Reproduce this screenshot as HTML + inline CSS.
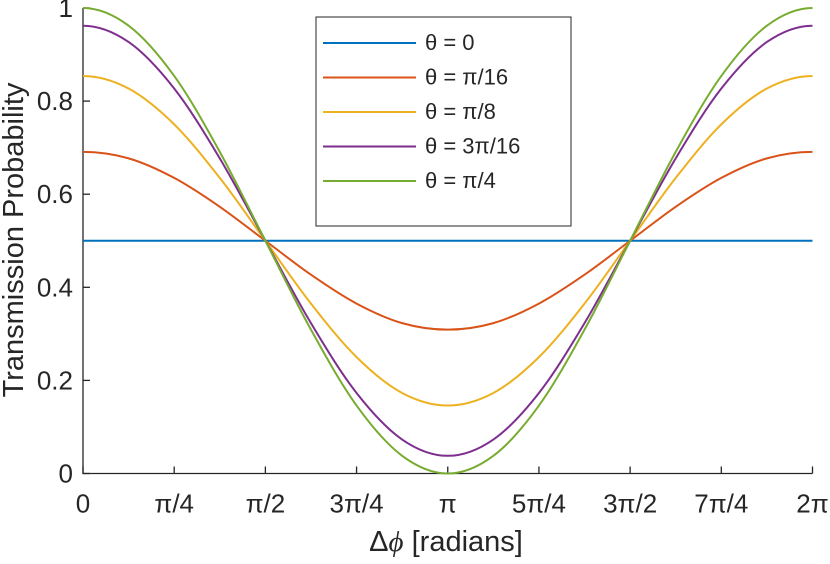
<!DOCTYPE html>
<html><head><meta charset="utf-8"><style>
body{margin:0;background:#fff;}
svg text{font-family:"Liberation Sans",sans-serif;fill:#262626;}
</style></head><body>
<svg id="chart" width="830" height="559" viewBox="0 0 830 559">
<g id="axes"></g>
<g id="series"></g>
<g id="legend"></g>
<text x="446" y="551" text-anchor="middle" font-size="29">Δ<tspan font-family="Liberation Serif" font-style="italic">ϕ</tspan> [radians]</text>
<text transform="translate(23,240) rotate(-90)" text-anchor="middle" font-size="29">Transmission Probability</text>
</svg>
<script>
const xTickLabels=["0","π/4","π/2","3π/4","π","5π/4","3π/2","7π/4","2π"];
const yTickLabels=["0","0.2","0.4","0.6","0.8","1"];
const yTickValues=[0,0.2,0.4,0.6,0.8,1];
const xSteps=[0,1,2,3,4,5,6,7,8,9,10,11,12,13,14,15,16]; // in units of π/8
const seriesNames=["θ = 0","θ = π/16","θ = π/8","θ = 3π/16","θ = π/4"];
const seriesColors=["#0072bd","#d95319","#edb120","#7e2f8e","#77ac30"];
const s0=[0.5,0.5,0.5,0.5,0.5,0.5,0.5,0.5,0.5,0.5,0.5,0.5,0.5,0.5,0.5,0.5,0.5];
const s1=[0.691,0.677,0.635,0.573,0.5,0.427,0.365,0.323,0.309,0.323,0.365,0.427,0.5,0.573,0.635,0.677,0.691];
const s2=[0.854,0.827,0.75,0.635,0.5,0.365,0.25,0.173,0.146,0.173,0.25,0.365,0.5,0.635,0.75,0.827,0.854];
const s3=[0.962,0.927,0.827,0.677,0.5,0.323,0.173,0.073,0.038,0.073,0.173,0.323,0.5,0.677,0.827,0.927,0.962];
const s4=[1,0.962,0.854,0.691,0.5,0.309,0.146,0.038,0,0.038,0.146,0.309,0.5,0.691,0.854,0.962,1];
const seriesData=[s0,s1,s2,s3,s4];

const NS="http://www.w3.org/2000/svg";
const X0=83,X1=812.5,Y0=473.5,Y1=8;
const xs=k=>X0+(X1-X0)*k/16;
const ys=v=>Y0-(Y0-Y1)*v;
function mk(tag,attrs,parent){const e=document.createElementNS(NS,tag);for(const k in attrs)e.setAttribute(k,attrs[k]);parent.appendChild(e);return e;}
const axes=document.getElementById('axes');
let e=mk('path',{d:`M${X0},${Y1}V${Y0}H${X1}`,stroke:'#262626','stroke-width':1.3,fill:'none'},axes);


xTickLabels.forEach((t,i)=>{const x=xs(i*2);
 const l=mk('line',{x1:x,x2:x,y1:Y0,y2:Y0-7,stroke:'#262626','stroke-width':1.3},axes);
 
 
 const tx=mk('text',{x:x,y:Y0+39,'text-anchor':'middle','font-size':26},axes);tx.textContent=t;
 
 });
yTickValues.forEach((v,i)=>{const y=ys(v);
 const l=mk('line',{x1:X0,x2:X0+7,y1:y,y2:y,stroke:'#262626','stroke-width':1.3},axes);
 
 
 const tx=mk('text',{x:X0-10,y:y+9,'text-anchor':'end','font-size':26},axes);tx.textContent=yTickLabels[i];
 
 });
function smooth(pts){const n=pts.length;
 const P=i=>{if(i<0){return [2*pts[0][0]-pts[-i][0],pts[-i][1]];}
  if(i>n-1){const j=2*(n-1)-i;return [2*pts[n-1][0]-pts[j][0],pts[j][1]];}return pts[i];};
 let d=`M${pts[0][0]},${pts[0][1]}`;
 for(let i=0;i<n-1;i++){const p0=P(i-1),p1=P(i),p2=P(i+1),p3=P(i+2);
  const c1=[p1[0]+(p2[0]-p0[0])/6,p1[1]+(p2[1]-p0[1])/6],c2=[p2[0]-(p3[0]-p1[0])/6,p2[1]-(p3[1]-p1[1])/6];
  d+=`C${c1[0]},${c1[1]} ${c2[0]},${c2[1]} ${p2[0]},${p2[1]}`;}return d;}
const sg=document.getElementById('series');
seriesData.forEach((arr,si)=>{const pts=arr.map((v,i)=>[xs(xSteps[i]),ys(v)]);
 const p=mk('path',{d:smooth(pts),stroke:seriesColors[si],'stroke-width':2,fill:'none'},sg);
 
 });
const lg=document.getElementById('legend');
const box=mk('rect',{x:316,y:17,width:255,height:209,fill:'#fff',stroke:'#262626','stroke-width':1},lg);


seriesNames.forEach((n,i)=>{const y=43+i*34.5;
 const l=mk('line',{x1:323,x2:416,y1:y,y2:y,stroke:seriesColors[i],'stroke-width':2},lg);
 
 
 const t=mk('text',{x:425,y:y+7,'font-size':22,'font-family':'Liberation Serif'},lg);t.textContent=n;
 
 });
</script>
</body></html>
